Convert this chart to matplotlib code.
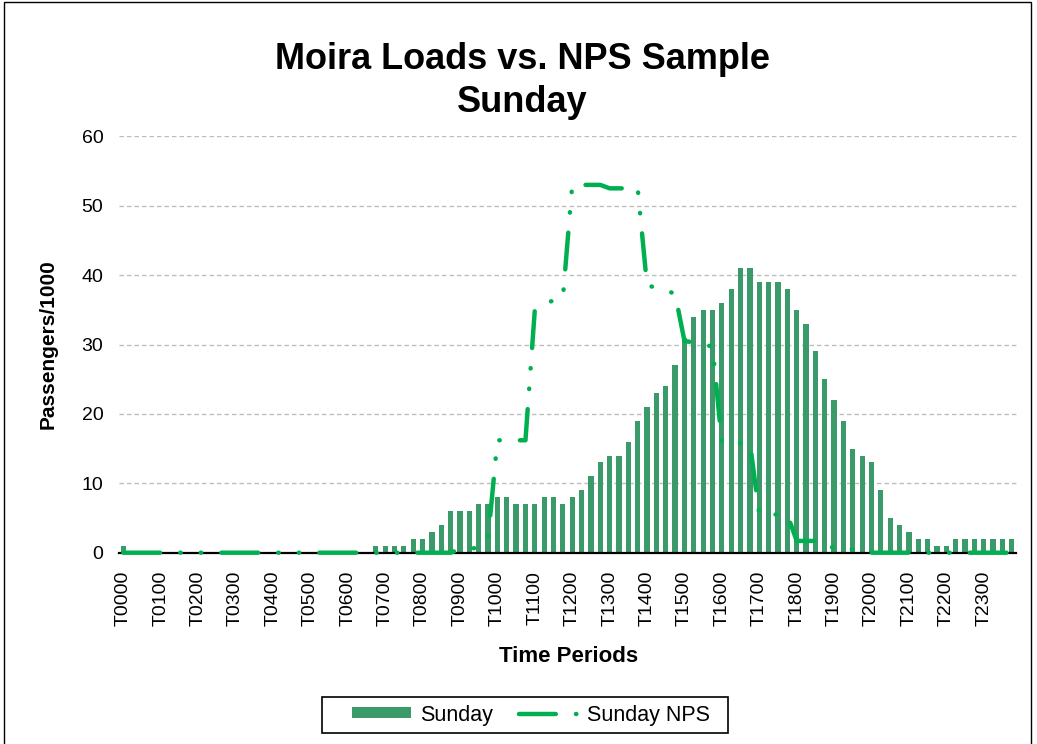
import matplotlib
matplotlib.use('Agg')
import matplotlib.pyplot as plt
from matplotlib.patches import Patch, Rectangle
from matplotlib.lines import Line2D

plt.rcParams['font.family'] = ['Liberation Sans', 'DejaVu Sans']
plt.rcParams['lines.scale_dashes'] = False

# ---- data ----
periods = [f"T{h:02d}{m:02d}" for h in range(24) for m in (0, 15, 30, 45)]
hour_labels = ['T0000', 'T0100', 'T0200', 'T0300', 'T0400', 'T0500', 'T0600', 'T0700',
               'T0800', 'T0900', 'T1000', 'T1100', 'T1200', 'T1300', 'T1400', 'T1500',
               'T1600', 'T1700', 'T1800', 'T1900', 'T2000', 'T2100', 'T2200', 'T2300']

sunday = [1, 0, 0, 0, 0, 0, 0, 0, 0, 0, 0, 0, 0, 0, 0, 0,
          0, 0, 0, 0, 0, 0, 0, 0, 0, 0, 0, 1, 1, 1, 1, 2,
          2, 3, 4, 6, 6, 6, 7, 7, 8, 8, 7, 7, 7, 8, 8, 7,
          8, 9, 11, 13, 14, 14, 16, 19, 21, 23, 24, 27, 31, 34, 35, 35,
          36, 38, 41, 41, 39, 39, 39, 38, 35, 33, 29, 25, 22, 19, 15, 14,
          13, 9, 5, 4, 3, 2, 2, 1, 1, 2, 2, 2, 2, 2, 2, 2]

sunday_nps = [0, 0, 0, 0, 0, 0, 0, 0, 0, 0, 0, 0, 0, 0, 0, 0,
              0, 0, 0, 0, 0, 0, 0, 0, 0, 0, 0, 0, 0, 0, 0, 0,
              0, 0, 0, 0, 0.5, 0.5, 0.8, 2.0, 16.2, 16.2, 16.2, 16.2, 35, 36, 36.3, 36.7,
              53, 53, 53, 53, 52.5, 52.5, 52.5, 52.5, 38.5, 38.2, 37.8, 37.3, 30.5, 30.3, 30.0, 29.7,
              15.8, 15.8, 15.8, 15.8, 5.5, 5.5, 5.5, 5.5, 1.7, 1.7, 1.7, 1.7, 0.5, 0.5, 0.5, 0.5,
              0, 0, 0, 0, 0, 0, 0, 0, 0, 0, 0, 0, 0, 0, 0, 0]

bar_color = '#3A9A6A'
line_color = '#00B050'
nps_dashes = (0, (26.5, 14.5, 0.3, 14.5, 0.3, 14.5))
nps_lw = 3.2

W, H = 1037, 744
fig = plt.figure(figsize=(W / 100, H / 100), dpi=100)
ax = fig.add_axes([118.6 / W, 1 - 552.7 / H, (1016.5 - 118.6) / W, (552.7 - 136.3) / H])

x = list(range(len(periods)))
ax.bar(x, sunday, width=0.56, color=bar_color, zorder=2, label='Sunday')
ax.plot(x, sunday_nps, color=line_color, lw=nps_lw, linestyle=nps_dashes,
        dash_capstyle='round', solid_capstyle='round', dash_joinstyle='round',
        zorder=4, clip_on=False, label='Sunday NPS')

ax.set_xlim(-0.5, len(periods) - 0.5)
ax.set_ylim(0, 60)
ax.set_yticks(range(0, 61, 10))
ax.set_xticks(range(0, len(periods), 4))
ax.set_xticklabels(hour_labels, rotation=90, fontsize=14, va='top')
ax.tick_params(axis='x', length=0, pad=13)
ax.tick_params(axis='y', length=0, pad=11, labelsize=14)

ax.yaxis.grid(True, color='#BDBDBD', linestyle=(0, (3.2, 2.2)), lw=1.0, zorder=0)
ax.set_axisbelow(True)
for s in ('left', 'right', 'top'):
    ax.spines[s].set_visible(False)
ax.spines['bottom'].set_color('black')
ax.spines['bottom'].set_linewidth(1.6)
ax.spines['bottom'].set_zorder(3)

ax.set_ylabel('Passengers/1000', fontsize=15, fontweight='bold')
ax.yaxis.set_label_coords((58 - 118.6) / (1016.5 - 118.6), 0.5)
ax.set_xlabel('Time Periods', fontsize=16, fontweight='bold')
ax.xaxis.set_label_coords((569 - 118.6) / (1016.5 - 118.6), -(657 - 552.7) / (552.7 - 136.3))
ax.xaxis.label.set_verticalalignment('center')

fig.text(522.5 / W, 1 - 69 / H, 'Moira Loads vs. NPS Sample', ha='center', va='baseline',
         fontsize=26, fontweight='bold')
fig.text(522.5 / W, 1 - 112 / H, 'Sunday', ha='center', va='baseline',
         fontsize=26, fontweight='bold')

handles = [Patch(facecolor=bar_color, edgecolor='none', label='Sunday'),
           Line2D([0], [0], color=line_color, lw=nps_lw, linestyle=nps_dashes,
                  dash_capstyle='round', label='Sunday NPS')]
leg = fig.legend(handles=handles, loc='center', bbox_to_anchor=(531 / W, 1 - 715 / H),
                 ncol=2, fontsize=15.5, frameon=False,
                 handlelength=2.75, handleheight=0.4, handletextpad=0.4,
                 columnspacing=1.25, borderpad=0.3, borderaxespad=0)
# legend box
fig.patches.append(Rectangle((322 / W, 1 - 733 / H), (728 - 322) / W, 36 / H,
                             transform=fig.transFigure, fill=False, edgecolor='black', lw=1.2))

# chart area border
fig.patches.append(Rectangle((3.5 / W, -0.05), (1030.5 - 3.5) / W, 1.05 - 1.5 / H,
                             transform=fig.transFigure, fill=False, edgecolor='black', lw=1.0))

fig.savefig('out.png', dpi=100)
